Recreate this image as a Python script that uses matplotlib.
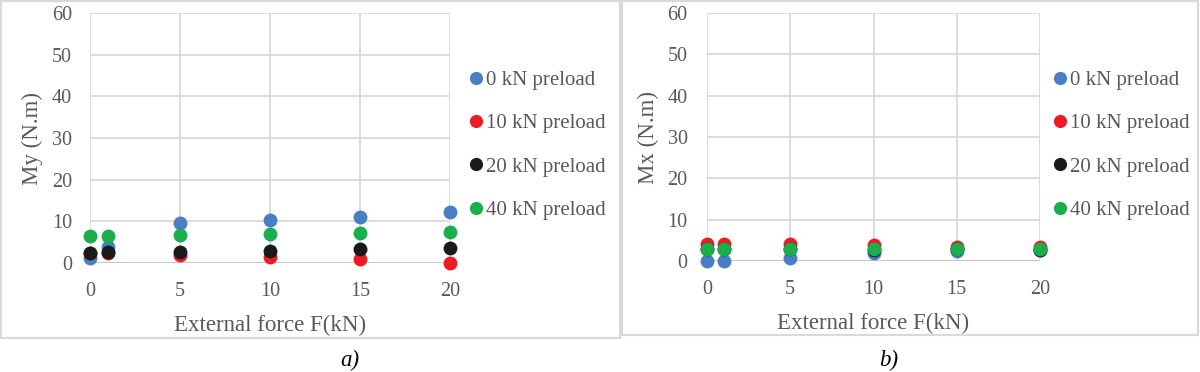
import matplotlib
matplotlib.use("Agg")
from matplotlib import pyplot as plt
from matplotlib.patches import Rectangle
from matplotlib.lines import Line2D

force = [0, 1, 5, 10, 15, 20]
labels = ["0 kN preload", "10 kN preload", "20 kN preload", "40 kN preload"]
colors = ["#4a7ec3", "#ec1c24", "#1a1a1a", "#1aae4d"]

# My (N.m), panel a
my_0 = [1.2, 3.9, 9.6, 10.3, 11.1, 12.2]
my_10 = [2.3, 2.3, 2.0, 1.5, 1.0, 0.1]
my_20 = [2.5, 2.6, 2.7, 3.0, 3.3, 3.6]
my_40 = [6.6, 6.6, 6.8, 7.0, 7.3, 7.5]

# Mx (N.m), panel b
mx_0 = [0.0, 0.0, 0.7, 1.9, 2.5, 2.6]
mx_10 = [4.2, 4.2, 4.2, 3.9, 3.5, 3.3]
mx_20 = [2.8, 2.8, 2.8, 2.7, 2.8, 2.7]
mx_40 = [2.9, 2.9, 2.9, 2.8, 2.9, 2.8]

plt.rcParams['font.family'] = ['Liberation Serif', 'DejaVu Serif']
txt = "#595959"
grid = "#d9d9d9"

fig = plt.figure(figsize=(12, 3.72), dpi=100)
W, H = 1200.0, 372.0

def panel(rect, series, ylabel, caption, cap_x, box, leg_x, leg_y, ypad):
    ax = fig.add_axes(rect)
    for ys, c, lab in zip(series, colors, labels):
        ax.scatter(force, ys, s=100, color=c, label=lab, zorder=3, clip_on=False, linewidths=0)
    ax.set_xlim(0, 20)
    ax.set_ylim(0, 60)
    ax.set_xticks([0, 5, 10, 15, 20])
    ax.set_yticks(range(0, 61, 10))
    ax.grid(True, color=grid, lw=1.3)
    ax.set_axisbelow(True)
    for s in ax.spines.values():
        s.set_visible(False)
    ax.axhline(0, color="#c8c8c8", lw=1.5, zorder=2)
    ax.tick_params(length=0, labelsize=14.5, labelcolor=txt)
    ax.tick_params(axis='x', pad=14)
    ax.tick_params(axis='y', pad=ypad)
    ax.set_xlabel("External force F(kN)", fontsize=16.5, color=txt, labelpad=10)
    ax.set_ylabel(ylabel, fontsize=16.5, color=txt, labelpad=6)
    handles = [Line2D([], [], ls='none', marker='o', ms=9.5, mfc=c, mec='none') for c in colors]
    ax.legend(handles, labels, loc='upper left', bbox_to_anchor=(leg_x, leg_y), frameon=False,
              fontsize=15, labelcolor=txt, handletextpad=0.0, handlelength=1.0,
              labelspacing=1.14, borderaxespad=0)
    fig.text(cap_x / W, 1 - 360 / H, caption, fontsize=16.5, style='italic', ha='center', va='center')
    x0, y0, x1, y1 = box
    fig.patches.append(Rectangle((x0 / W, 1 - y1 / H), (x1 - x0) / W, (y1 - y0) / H,
                                 transform=fig.transFigure, fill=False, ec=grid, lw=1.5))
    return ax

panel([90 / W, 1 - 263 / H, 360 / W, 250 / H], [my_0, my_10, my_20, my_40],
      "My (N.m)", "a)", 350, (1, 1, 620, 338), 1.020, 0.804, 13)
panel([707 / W, 1 - 261 / H, 333 / W, 248 / H], [mx_0, mx_10, mx_20, mx_40],
      "Mx (N.m)", "b)", 889, (622, 1, 1198, 335), 1.004, 0.802, 14)

fig.savefig("out.png", dpi=100, facecolor="white")
